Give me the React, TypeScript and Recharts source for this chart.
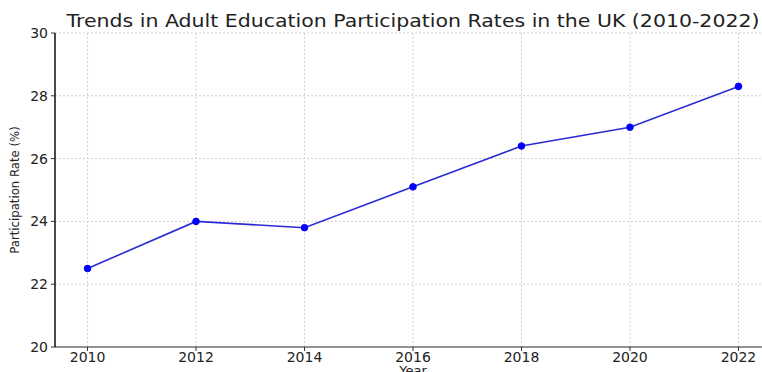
import { LineChart, Line, XAxis, YAxis, CartesianGrid } from 'recharts';

const years = [2010, 2012, 2014, 2016, 2018, 2020, 2022];
const rates = [22.5, 24.0, 23.8, 25.1, 26.4, 27.0, 28.3];
const yTicks = [20, 22, 24, 26, 28, 30];

const data = years.map((year, i) => ({ year, rate: rates[i] }));

const tickStyle = { fill: '#222', fontSize: 14, fontFamily: 'DejaVu Sans' };

export default function App() {
  return (
    <div style={{ position: 'absolute', left: 0, top: 0, width: 762, height: 372, overflow: 'hidden', background: '#fff' }}>
      <div style={{
        position: 'absolute', left: 0, width: 826, top: 10, textAlign: 'center',
        fontFamily: 'DejaVu Sans', fontSize: 17.5, color: '#222', whiteSpace: 'nowrap', lineHeight: '22px',
        transform: 'scaleX(1.17)', transformOrigin: '413px 0',
      }}>
        Trends in Adult Education Participation Rates in the UK (2010-2022)
      </div>
      <LineChart width={771} height={372} data={data} margin={{ top: 33, right: 0, bottom: 0, left: 0 }}>
        <CartesianGrid stroke="#d0d0d0" strokeDasharray="2 2" />
        <XAxis
          dataKey="year" type="number" domain={[2009.4, 2022.6]} ticks={years} allowDataOverflow
          height={25} tickSize={4} tickMargin={1}
          axisLine={{ stroke: '#333', strokeWidth: 1.2 }} tickLine={{ stroke: '#333' }}
          tick={tickStyle}
          label={{ value: 'Year', position: 'insideBottom', offset: -3, style: { ...tickStyle, fontSize: 13 } }}
        />
        <YAxis
          domain={[20, 30]} ticks={yTicks} width={55} tickSize={4} tickMargin={3}
          axisLine={{ stroke: '#111', strokeWidth: 1.5 }} tickLine={{ stroke: '#333' }}
          tick={tickStyle}
          label={{
            value: 'Participation Rate (%)', angle: -90, position: 'insideLeft', offset: 14,
            style: { fill: '#222', fontSize: 13, fontFamily: 'DejaVu Sans Condensed', textAnchor: 'middle' },
          }}
        />
        <Line
          dataKey="rate" stroke="#2b2bd6" strokeWidth={1.6} isAnimationActive={false}
          dot={{ r: 3.3, fill: '#0000ff', stroke: '#0000ff', strokeWidth: 1 }} activeDot={false}
        />
      </LineChart>
    </div>
  );
}
